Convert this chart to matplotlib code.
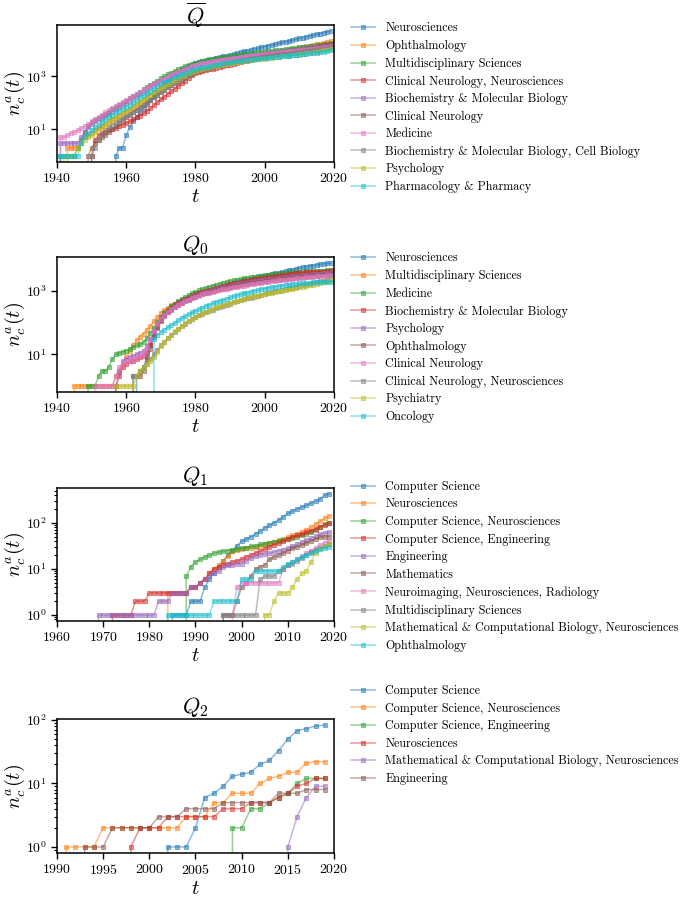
import numpy as np
import matplotlib
matplotlib.use("Agg")
import matplotlib.pyplot as plt
from matplotlib.ticker import LogLocator, NullLocator

plt.rcParams['font.family'] = 'serif'
plt.rcParams['font.serif'] = ['cmr10']
plt.rcParams['mathtext.fontset'] = 'cm'
plt.rcParams['axes.formatter.use_mathtext'] = True
plt.rcParams['axes.unicode_minus'] = False

# ---------------- data: yearly counts, every series ends in 2019 ----------------
# panel Q-bar
qbar_labels = ["Neurosciences", "Ophthalmology", "Multidisciplinary Sciences",
               "Clinical Neurology, Neurosciences", "Biochemistry & Molecular Biology",
               "Clinical Neurology", "Medicine",
               "Biochemistry & Molecular Biology, Cell Biology", "Psychology",
               "Pharmacology & Pharmacy"]
qbar_neuro = [0, 1, 2, 2, 6, 12, 20, 30, 45, 63, 89, 126, 178, 251, 355, 501, 676, 891, 1122, 1380,
              1660, 1995, 2344, 2754, 3162, 3400, 3650, 3920, 4210, 4520, 4860, 5220, 5600, 6020, 6460,
              6940, 7450, 8000, 8600, 9230, 9900, 10600, 11400, 12300, 13200, 14100, 15200, 16300, 17500,
              18800, 20200, 21700, 23300, 25000, 26900, 28900, 31000, 33300, 35700, 38000, 41000, 44500,
              47500, 50000]
qbar_ophth = [0, 2, 2, 2, 2, 3, 5, 6, 7, 9, 11, 13, 16, 20, 24, 28, 33, 38, 45, 55, 68, 85, 105, 130,
              160, 200, 250, 310, 380, 460, 550, 650, 760, 880, 1010, 1150, 1300, 1460, 1630, 1800, 1950,
              2100, 2260, 2420, 2590, 2770, 2960, 3150, 3350, 3570, 3800, 4050, 4310, 4590, 4890, 5200,
              5540, 5900, 6280, 6680, 7110, 7570, 8060, 8580, 9130, 9720, 10350, 11000, 11700, 12500,
              13300, 14200, 15100, 16100, 17200, 18500, 20000, 21500]
qbar_multi = [0, 1, 1, 1, 1, 1, 2, 4, 8, 13, 18, 23, 27, 32, 38, 46, 56, 68, 82, 100, 120, 145, 175, 215,
              260, 320, 390, 470, 570, 690, 830, 990, 1170, 1370, 1590, 1830, 2090, 2370, 2660, 2970,
              3300, 3550, 3800, 4050, 4300, 4550, 4800, 5050, 5300, 5550, 5800, 6050, 6300, 6550, 6800,
              7050, 7300, 7600, 7900, 8200, 8500, 8800, 9150, 9500, 9850, 10200, 10600, 11000, 11400,
              11800, 12200, 12700, 13200, 13700, 14200, 14800, 15500, 16300, 17200, 18000]
qbar_cnn = [0, 1, 4, 6, 7, 8, 9, 10, 11, 13, 15, 17, 20, 24, 28, 33, 40, 50, 62, 80, 105, 135, 170, 215,
            270, 340, 430, 540, 680, 860, 1080, 1360, 1460, 1560, 1680, 1800, 1930, 2070, 2220, 2380,
            2550, 2730, 2930, 3140, 3370, 3610, 3870, 4150, 4450, 4770, 5110, 5480, 5800, 6150, 6500,
            6880, 7280, 7700, 8150, 8620, 9120, 9650, 10200, 10800, 11400, 12100, 12800, 13600, 14500,
            15500, 16500]
qbar_bmb = [0, 3, 3, 3, 3, 3, 3, 5, 8, 12, 16, 20, 24, 29, 35, 42, 50, 60, 72, 86, 105, 130, 160, 195,
            240, 290, 350, 420, 500, 590, 700, 820, 960, 1110, 1280, 1460, 1660, 1870, 2100, 2340, 2600,
            2800, 3000, 3200, 3400, 3600, 3800, 4000, 4200, 4400, 4600, 4800, 5000, 5250, 5500, 5750,
            6000, 6250, 6500, 6800, 7100, 7400, 7700, 8000, 8300, 8600, 8950, 9300, 9650, 10000, 10400,
            10800, 11200, 11700, 12200, 12700, 13300, 14000, 14700, 15500]
qbar_cn = [0, 1, 2, 3, 4, 5, 6, 8, 10, 13, 17, 22, 28, 35, 44, 55, 68, 85, 105, 130, 160, 200, 250, 310,
           380, 460, 550, 660, 780, 920, 1080, 1250, 1450, 1600, 1760, 1930, 2110, 2300, 2500, 2710,
           2930, 3160, 3400, 3650, 3900, 4150, 4400, 4650, 4900, 5150, 5400, 5650, 5900, 6200, 6500,
           6800, 7100, 7400, 7750, 8100, 8450, 8800, 9200, 9600, 10000, 10500, 11000, 11600, 12200,
           12900, 13700, 14500]
qbar_med = [0, 5, 5, 6, 7, 8, 9, 11, 13, 16, 20, 25, 30, 36, 43, 52, 62, 74, 88, 105, 125, 150, 180, 215,
            255, 300, 360, 430, 510, 600, 700, 820, 950, 1100, 1260, 1440, 1640, 1860, 2100, 2360, 2640,
            2850, 3050, 3250, 3450, 3650, 3850, 4050, 4250, 4450, 4650, 4850, 5050, 5250, 5450, 5650,
            5850, 6050, 6250, 6500, 6750, 7000, 7250, 7500, 7750, 8000, 8300, 8600, 8900, 9200, 9500,
            9850, 10200, 10600, 11000, 11400, 11900, 12400, 12900, 13500]
qbar_bmbcell = [0, 1, 2, 4, 6, 9, 12, 15, 18, 22, 26, 31, 37, 45, 55, 68, 85, 105, 130, 160, 200, 250,
                310, 380, 460, 560, 670, 800, 950, 1120, 1300, 1500, 1650, 1800, 1960, 2130, 2300, 2480,
                2660, 2850, 3040, 3240, 3440, 3640, 3850, 4060, 4270, 4490, 4710, 4940, 5170, 5400, 5650,
                5900, 6150, 6400, 6650, 6900, 7200, 7500, 7800, 8100, 8400, 8750, 9100, 9500, 9900,
                10400, 11000, 11700, 12500]
qbar_psych = [0, 1, 1, 1, 1, 2, 3, 4, 5, 6, 8, 10, 12, 15, 19, 23, 28, 34, 41, 50, 60, 73, 90, 110, 135,
              165, 200, 245, 300, 365, 440, 530, 630, 740, 860, 990, 1130, 1280, 1440, 1600, 1750, 1900,
              2050, 2200, 2350, 2500, 2650, 2800, 2950, 3100, 3250, 3400, 3550, 3700, 3850, 4000, 4150,
              4300, 4450, 4600, 4800, 5000, 5200, 5400, 5600, 5800, 6050, 6300, 6550, 6800, 7050, 7350,
              7650, 8000, 8400, 8900, 9500, 10200, 11000]
qbar_pharm = [0, 1, 1, 1, 1, 1, 1, 3, 5, 7, 9, 12, 15, 19, 24, 30, 36, 43, 51, 60, 70, 85, 105, 130, 160,
              195, 235, 285, 345, 415, 495, 585, 685, 795, 915, 1045, 1185, 1335, 1495, 1665, 1845, 2000,
              2150, 2300, 2450, 2600, 2750, 2900, 3050, 3200, 3350, 3500, 3650, 3800, 3950, 4100, 4250,
              4400, 4550, 4700, 4850, 5000, 5150, 5300, 5450, 5600, 5800, 6000, 6200, 6400, 6600, 6800,
              7000, 7250, 7500, 7800, 8100, 8500, 9000, 9500]

# panel Q0
q0_labels = ["Neurosciences", "Multidisciplinary Sciences", "Medicine",
             "Biochemistry & Molecular Biology", "Psychology", "Ophthalmology",
             "Clinical Neurology", "Clinical Neurology, Neurosciences", "Psychiatry", "Oncology"]
q0_neuro = [0, 2, 3, 4, 8, 20, 45, 90, 150, 210, 270, 330, 390, 450, 510, 570, 640, 710, 790, 870, 950,
            1030, 1110, 1200, 1290, 1380, 1480, 1580, 1690, 1800, 1920, 2040, 2170, 2300, 2440, 2590,
            2740, 2900, 3070, 3250, 3440, 3640, 3850, 4070, 4300, 4540, 4790, 5050, 5320, 5600, 5880,
            6160, 6440, 6720, 6990, 7250, 7500, 7700]
q0_multi = [0, 1, 1, 1, 1, 1, 1, 1, 1, 1, 1, 1, 1, 2, 3, 5, 8, 13, 20, 28, 36, 45, 60, 80, 110, 150, 200,
            250, 300, 350, 400, 450, 500, 550, 600, 660, 720, 780, 840, 900, 960, 1020, 1090, 1160, 1230,
            1300, 1380, 1460, 1540, 1620, 1710, 1800, 1890, 1980, 2080, 2180, 2280, 2380, 2480, 2590,
            2700, 2810, 2920, 3030, 3150, 3270, 3390, 3510, 3630, 3760, 3890, 4020, 4160, 4300, 4450,
            4600]
q0_med = [0, 1, 1, 1, 2, 3, 3, 4, 7, 10, 11, 12, 13, 15, 17, 19, 21, 24, 32, 48, 70, 105, 150, 200, 260,
          330, 400, 480, 560, 650, 750, 850, 950, 1050, 1150, 1260, 1370, 1480, 1600, 1720, 1840, 1960,
          2080, 2190, 2300, 2410, 2520, 2630, 2740, 2850, 2960, 3070, 3180, 3280, 3380, 3480, 3570, 3660,
          3750, 3830, 3910, 3990, 4060, 4130, 4200, 4260, 4320, 4380, 4430, 4480, 4520, 4550]
q0_bmb = [0, 1, 2, 4, 5, 6, 6, 7, 8, 9, 12, 20, 40, 75, 120, 170, 230, 290, 350, 410, 480, 550, 620, 700,
          780, 860, 940, 1020, 1100, 1190, 1280, 1370, 1460, 1550, 1650, 1750, 1850, 1950, 2050, 2150,
          2250, 2350, 2450, 2560, 2670, 2780, 2890, 3000, 3110, 3220, 3330, 3440, 3540, 3640, 3730, 3810,
          3880, 3950, 4010, 4060, 4110, 4150, 4190, 4220]
q0_psych = [0, 1, 3, 6, 7, 8, 9, 10, 11, 13, 18, 30, 55, 90, 130, 175, 225, 280, 335, 390, 450, 510, 570,
            640, 710, 780, 850, 920, 990, 1060, 1140, 1220, 1300, 1380, 1460, 1540, 1620, 1700, 1780,
            1860, 1940, 2020, 2100, 2180, 2260, 2340, 2420, 2500, 2580, 2660, 2740, 2820, 2900, 2980,
            3060, 3140, 3220, 3300, 3380, 3460, 3540, 3620, 3700, 3780]
q0_ophth = [0, 2, 2, 2, 3, 6, 15, 35, 70, 110, 160, 210, 260, 310, 365, 420, 480, 540, 600, 665, 730,
            795, 860, 925, 990, 1060, 1130, 1200, 1270, 1340, 1410, 1480, 1550, 1620, 1690, 1760, 1830,
            1900, 1970, 2040, 2110, 2180, 2250, 2320, 2390, 2460, 2530, 2600, 2670, 2740, 2810, 2880,
            2950, 3020, 3090, 3160, 3230, 3300, 3370]
q0_cn = [0, 1, 1, 1, 1, 1, 1, 2, 4, 5, 6, 6, 7, 8, 9, 11, 16, 30, 55, 90, 130, 170, 215, 265, 315, 370,
         425, 480, 540, 600, 660, 720, 780, 840, 900, 960, 1020, 1080, 1140, 1200, 1260, 1320, 1380, 1440,
         1500, 1560, 1620, 1690, 1760, 1830, 1900, 1970, 2040, 2110, 2180, 2250, 2320, 2390, 2460, 2530,
         2600, 2670, 2740, 2810, 2880, 2940, 3000, 3060, 3120, 3180]
q0_cnn = [0, 2, 2, 3, 4, 5, 7, 10, 14, 19, 25, 32, 40, 50, 62, 76, 92, 110, 130, 150, 170, 190, 212, 235,
          260, 285, 310, 340, 370, 400, 435, 470, 505, 545, 585, 625, 670, 715, 760, 810, 860, 915, 970,
          1030, 1090, 1150, 1220, 1290, 1360, 1440, 1520, 1610, 1700, 1800, 1900, 2010, 2120, 2240, 2360]
q0_psychiatry = [0, 1, 1, 1, 1, 1, 1, 2, 3, 4, 5, 6, 8, 12, 18, 25, 33, 42, 53, 65, 80, 97, 115, 135,
                 155, 177, 200, 225, 250, 278, 306, 335, 365, 396, 428, 461, 495, 530, 566, 603, 641,
                 680, 720, 761, 803, 846, 890, 935, 981, 1030, 1080, 1130, 1190, 1250, 1310, 1380, 1450,
                 1530, 1610, 1700, 1800, 1910, 2030, 2150]
q0_onc = [0, 30, 40, 50, 60, 72, 85, 100, 118, 138, 160, 185, 210, 238, 268, 300, 334, 370, 408, 448,
          490, 534, 580, 628, 678, 730, 784, 840, 898, 958, 1020, 1080, 1140, 1200, 1260, 1320, 1380,
          1440, 1500, 1550, 1600, 1650, 1700, 1740, 1780, 1820, 1860, 1890, 1920, 1950, 1970, 1990, 2000]

# panel Q1
q1_labels = ["Computer Science", "Neurosciences", "Computer Science, Neurosciences",
             "Computer Science, Engineering", "Engineering", "Mathematics",
             "Neuroimaging, Neurosciences, Radiology", "Multidisciplinary Sciences",
             "Mathematical & Computational Biology, Neurosciences", "Ophthalmology"]
q1_cs = [0, 1, 1, 1, 1, 2, 2, 2, 4, 6, 8, 11, 15, 20, 25, 32, 40, 44, 50, 57, 66, 78, 88, 100, 115, 135,
         160, 180, 200, 220, 240, 265, 295, 330, 400, 420]
q1_neuro = [0, 3, 3, 3, 3, 3, 4, 4, 5, 6, 8, 10, 12, 15, 19, 24, 26, 27, 28, 29, 30, 32, 34, 36, 39, 42,
            45, 49, 53, 58, 64, 71, 80, 92, 108, 125, 140]
q1_csneuro = [0, 7, 11, 14, 16, 18, 20, 22, 23, 24, 25, 26, 27, 28, 29, 31, 32, 34, 35, 37, 39, 41, 43,
              45, 47, 50, 54, 58, 63, 70, 80, 92, 100]
q1_cseng = [0, 1, 1, 1, 1, 1, 2, 2, 2, 3, 3, 3, 3, 3, 3, 3, 3, 3, 4, 4, 5, 6, 8, 10, 11, 12, 13, 14, 15,
            16, 18, 20, 22, 24, 27, 30, 33, 37, 41, 45, 49, 53, 57, 62, 67, 74, 82, 90, 98]
q1_eng = [0, 1, 1, 1, 1, 1, 1, 1, 1, 1, 1, 1, 1, 1, 2, 2, 2, 3, 3, 3, 3, 4, 4, 5, 6, 7, 8, 9, 11, 12, 12,
          13, 13, 15, 17, 19, 20, 21, 22, 23, 25, 26, 28, 31, 34, 38, 42, 46, 51, 56, 60, 62]
q1_math = [0, 1, 1, 1, 2, 4, 5, 7, 10, 11, 12, 16, 18, 20, 22, 25, 28, 30, 33, 36, 40, 44, 48, 50, 50]
q1_neuroimg = [0, 1, 4, 5, 5, 5, 5, 5, 5, 5, 5, 5, 10, 12, 14, 16, 19, 22, 25, 29, 33, 37, 40]
q1_multi = [0, 1, 1, 1, 1, 1, 1, 1, 1, 6, 7, 7, 7, 9, 10, 12, 13, 15, 17, 20, 23, 26, 29, 32, 35]
q1_mathcb = [0, 1, 1, 2, 3, 3, 3, 4, 6, 8, 9, 14, 22, 28, 32, 34]
q1_ophth = [0, 1, 1, 1, 1, 1, 1, 1, 1, 1, 1, 2, 2, 2, 2, 2, 2, 6, 6, 6, 9, 9, 9, 9, 9, 9, 11, 13, 14, 16,
            18, 20, 22, 25, 27, 29, 30]

# panel Q2
q2_labels = ["Computer Science", "Computer Science, Neurosciences", "Computer Science, Engineering",
             "Neurosciences", "Mathematical & Computational Biology, Neurosciences", "Engineering"]
q2_cs = [0, 1, 1, 1, 2, 6, 7, 9, 13, 14, 15, 20, 23, 33, 50, 68, 73, 80, 83]
q2_csneuro = [0, 1, 1, 1, 1, 2, 2, 2, 2, 2, 2, 2, 2, 2, 3, 3, 3, 5, 5, 7, 7, 7, 10, 12, 13, 15, 15, 21,
              22, 22]
q2_cseng = [0, 2, 2, 4, 4, 5, 6, 7, 10, 12, 12, 12]
q2_neuro = [0, 1, 2, 2, 2, 3, 3, 3, 3, 3, 3, 4, 4, 4, 5, 5, 5, 6, 7, 9, 10, 12, 12]
q2_mathcb = [0, 1, 3, 6, 9, 9]
q2_eng = [0, 1, 1, 1, 2, 2, 2, 2, 2, 3, 3, 3, 4, 4, 4, 4, 5, 5, 5, 5, 5, 5, 7, 7, 7, 8, 8, 8]

panels = [
    (r"$\overline{Q}$", qbar_labels,
     [qbar_neuro, qbar_ophth, qbar_multi, qbar_cnn, qbar_bmb, qbar_cn, qbar_med, qbar_bmbcell,
      qbar_psych, qbar_pharm], (1940, 2020), 20),
    (r"$Q_0$", q0_labels,
     [q0_neuro, q0_multi, q0_med, q0_bmb, q0_psych, q0_ophth, q0_cn, q0_cnn, q0_psychiatry, q0_onc],
     (1940, 2020), 20),
    (r"$Q_1$", q1_labels,
     [q1_cs, q1_neuro, q1_csneuro, q1_cseng, q1_eng, q1_math, q1_neuroimg, q1_multi, q1_mathcb,
      q1_ophth], (1960, 2020), 10),
    (r"$Q_2$", q2_labels,
     [q2_cs, q2_csneuro, q2_cseng, q2_neuro, q2_mathcb, q2_eng], (1990, 2020), 5),
]

colors = plt.get_cmap('tab10').colors

# axes boxes [left, bottom, width, height] and legend anchor heights
boxes = [[0.0832, 0.8198, 0.4044, 0.1524],
         [0.0832, 0.5640, 0.4044, 0.1502],
         [0.0832, 0.3092, 0.4044, 0.1480],
         [0.0832, 0.0512, 0.4044, 0.1490]]
leg_y = [1.055, 1.07, 1.09, 1.29]

fig = plt.figure(figsize=(6.85, 8.99), dpi=100)

for i, (title, labels, series, xlim, xstep) in enumerate(panels):
    ax = fig.add_axes(boxes[i])
    ax.set_yscale('log')
    for j, vals in enumerate(series):
        years = np.arange(2020 - len(vals), 2020)
        ax.plot(years, vals, marker='s', ms=2.4, mew=0.8, lw=1.1, alpha=0.5,
                color=colors[j], label=labels[j])
    ax.set_xlim(*xlim)
    ax.set_xticks(np.arange(xlim[0], xlim[1] + 1, xstep))
    if i < 2:
        ax.set_yticks([10, 1000])
        ax.yaxis.set_minor_locator(NullLocator())
    else:
        ax.set_yticks([1, 10, 100])
        ax.yaxis.set_minor_locator(LogLocator(base=10, subs=np.arange(2, 10), numticks=20))
    if i == 0:
        # the overlined title sits right against the top edge
        fig.text(boxes[0][0] + boxes[0][2] / 2, 0.9995, title, ha='center', va='top', fontsize=16)
    else:
        ax.set_title(title, fontsize=16, pad=2)
    ax.set_xlabel(r"$t$", fontsize=15, labelpad=2)
    ax.set_ylabel(r"$n_c^a(t)$", fontsize=14.5)
    ax.yaxis.set_label_coords(-0.108, 0.5)
    ax.tick_params(which='major', direction='out', length=4, width=1, labelsize=10)
    ax.tick_params(which='minor', direction='out', length=2, width=0.8)
    for s in ax.spines.values():
        s.set_linewidth(1.1)
    ax.legend(loc='upper left', bbox_to_anchor=(1.045, leg_y[i]), frameon=False,
              fontsize=8.7, labelspacing=0.45, handlelength=2.0, borderaxespad=0)

fig.savefig("out.png", dpi=100)
